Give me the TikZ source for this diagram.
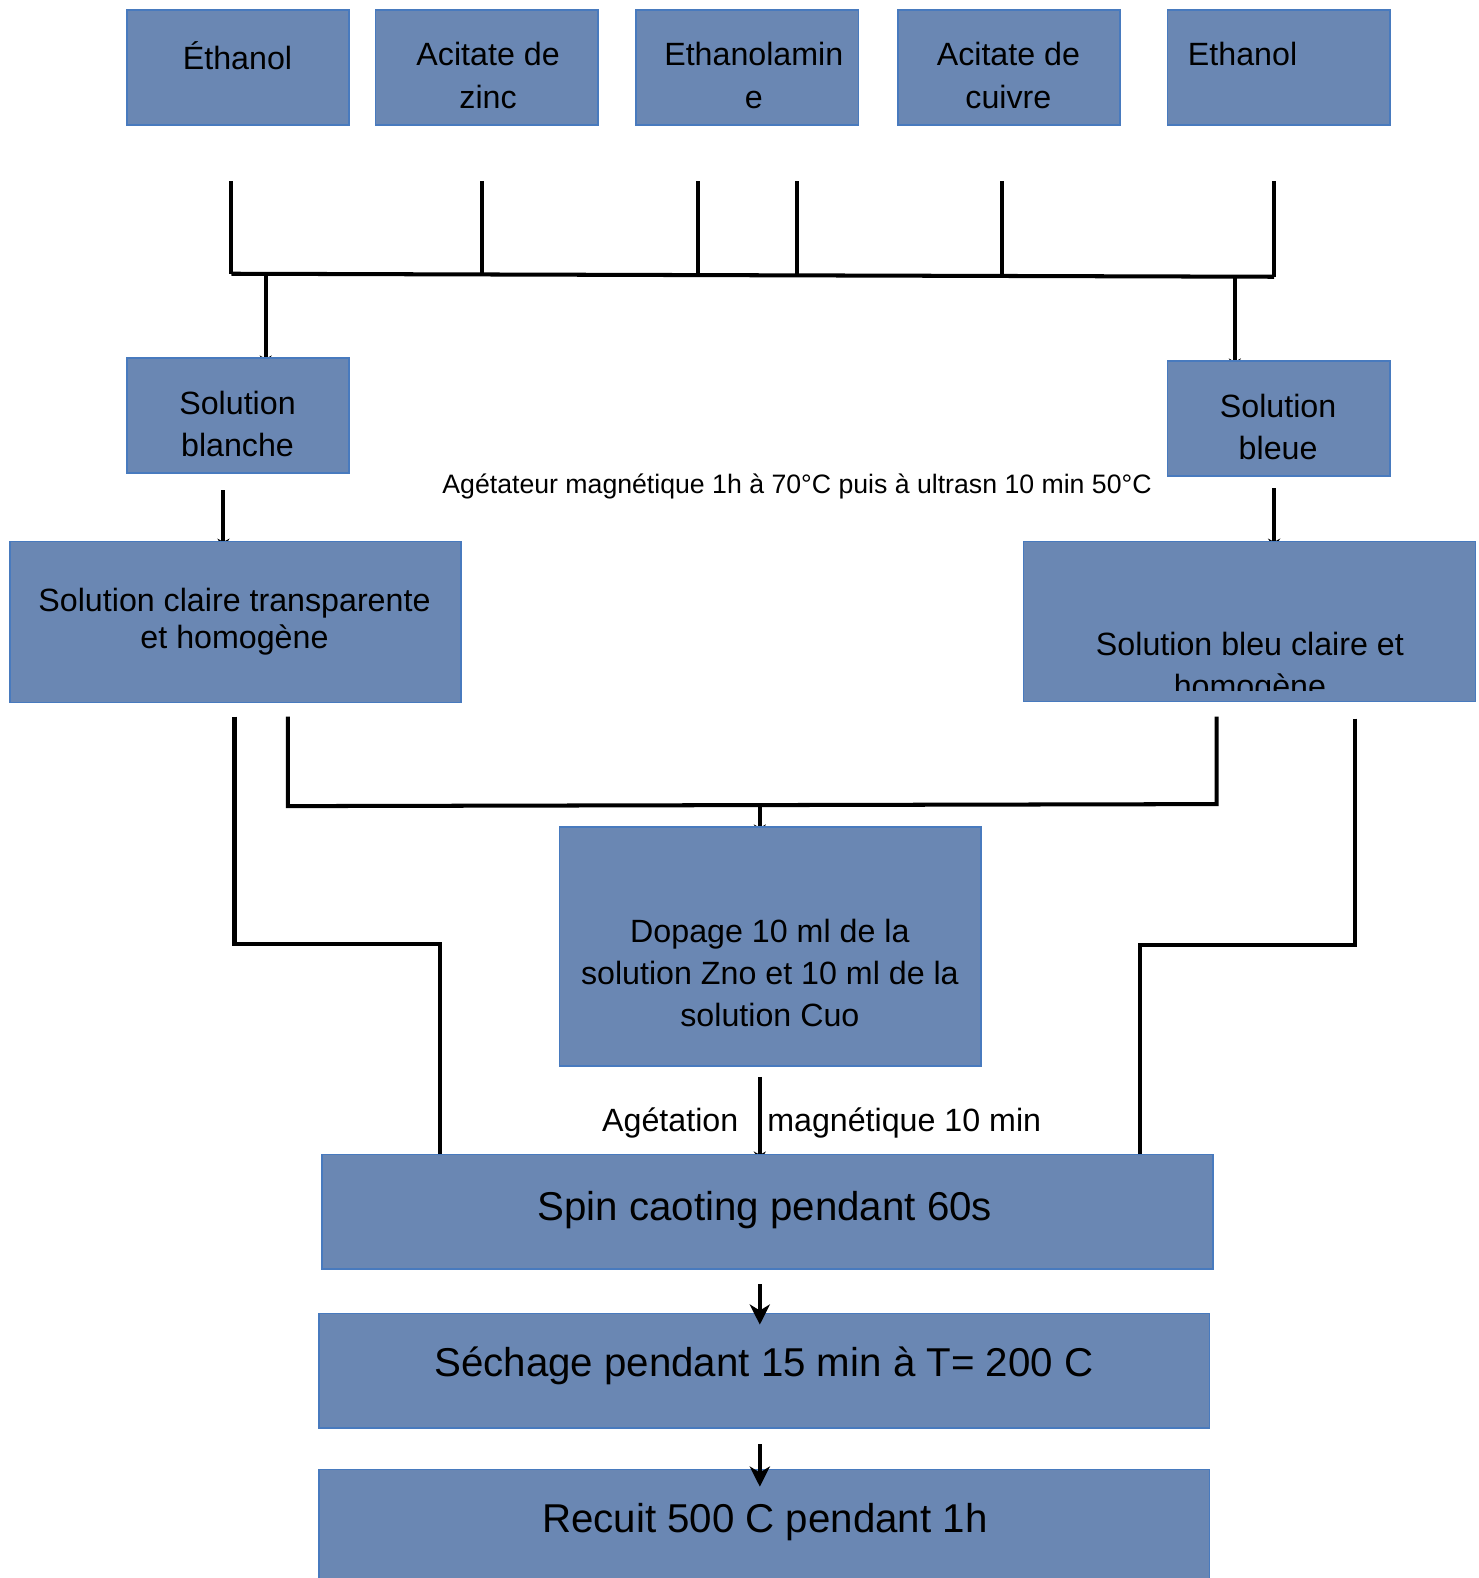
\documentclass[tikz,border=0pt]{standalone}
\usepackage{fontspec}
\setmainfont{Liberation Sans}
\usetikzlibrary{arrows.meta,backgrounds}
\newlength\px
\setlength\px{0.5pt}
\definecolor{boxfill}{RGB}{106,135,179}
\definecolor{boxline}{RGB}{72,122,190}
\tikzset{
  blk/.style={draw=boxline, fill=boxfill, line width=0.8pt, inner sep=0pt},
  txt/.style={align=center, inner sep=0pt, font=\fontsize{16}{21}\selectfont},
  big/.style={inner sep=0pt, font=\fontsize{20}{24}\selectfont},
  wire/.style={line width=2pt},
  smalltip/.style={wire, -{Stealth[length=5pt,width=6pt]}},
  bigtip/.style={wire, -{Stealth[length=10pt,width=10pt,inset=3pt]}}
}
\begin{document}
\begin{tikzpicture}[x=0.5pt,y=-0.5pt]
\useasboundingbox (0,0) rectangle (1469,1568);
% reactifs
\node[blk, minimum width=221*\px, minimum height=114*\px] (eth) at (236.5,67) {};
\node[blk, minimum width=221*\px, minimum height=114*\px] (zin) at (483.5,67) {};
\node[blk, minimum width=221*\px, minimum height=114*\px] (mea) at (742.5,67) {};
\node[blk, minimum width=221*\px, minimum height=114*\px] (cui) at (1002.5,67) {};
\node[blk, minimum width=221*\px, minimum height=114*\px] (ethb) at (1270.5,67) {};
\node[txt] (ethtxt) at (236,55) {Éthanol};
\node[txt] (zintxt) at (485,75) {Acitate de\\zinc};
\node[txt] (meatxt) at (749,75) {Ethanolamin\\e};
\node[txt] (cuitxt) at (1002,75) {Acitate de\\cuivre};
\node[txt, anchor=west] (ethbtxt) at (1180,54) {Ethanol};
% solutions
\node[blk, minimum width=221*\px, minimum height=114*\px] (sbla) at (236.5,413) {};
\node[blk, minimum width=221*\px, minimum height=114*\px] (sble) at (1270.5,416) {};
\node[txt] (sblatxt) at (236,421) {Solution\\blanche};
\node[txt] (sbletxt) at (1270,424) {Solution\\bleue};
\node[inner sep=0pt, font=\fontsize{13.25}{16}\selectfont] (agit) at (792,483)
  {Agétateur magnétique 1h à 70°C puis à ultrasn 10 min 50°C};
\node[blk, minimum width=448*\px, minimum height=160*\px] (sclr) at (234,618) {};
\node[blk, minimum width=449*\px, minimum height=159*\px] (sbcl) at (1241.5,617.5) {};
\node[txt, font=\fontsize{16}{18.5}\selectfont] (sclrtxt) at (233,618)
  {Solution claire transparente\\et homogène};
\begin{scope}
\clip (1017,538) rectangle (1466,686);
\node[txt, font=\fontsize{16}{21}\selectfont] (sbcltxt) at (1242,664)
  {Solution bleu claire et\\homogène};
\end{scope}
% dopage et depot
\node[blk, minimum width=419*\px, minimum height=237*\px] (dop) at (765.5,940.5) {};
\node[txt] (doptxt) at (765,967)
  {Dopage 10 ml de la\\solution Zno et 10 ml de la\\solution Cuo};
\node[blk, minimum width=885*\px, minimum height=114*\px] (spin) at (762.5,1204) {};
\node[big] (spintxt) at (760,1202) {Spin caoting pendant 60s};
\node[blk, minimum width=885*\px, minimum height=114*\px] (sech) at (759.5,1362) {};
\node[big] (sechtxt) at (759,1357) {Séchage pendant 15 min à T= 200 C};
\node[blk, minimum width=885*\px, minimum height=130*\px] (rec) at (759.5,1525) {};
\node[big] (rectxt) at (760,1512) {Recuit 500 C pendant 1h};
\node[txt, anchor=east] (agt) at (734,1116) {Agétation};
\node[txt, anchor=west] (agtb) at (762,1116) {magnétique 10 min};
% connecteurs
\coordinate (c1) at (230,180);
\coordinate (c2) at (479,180);
\coordinate (c3) at (694,180);
\coordinate (c4) at (792,180);
\coordinate (c5) at (996,180);
\coordinate (c6) at (1266,180);
\coordinate (busl) at (230,272);
\coordinate (busr) at (1266,275);
\coordinate (outl) at (264,272);
\coordinate (outr) at (1227,275);
\coordinate (sblaout) at (222,487);
\coordinate (sbleout) at (1266,485);
\coordinate (ml) at (286,712);
\coordinate (mr) at (1209,712);
\coordinate (mid) at (755,800);
\coordinate (bl) at (233,712);
\coordinate (br) at (1346,714);
\coordinate (dopout) at (755,1070);
\coordinate (spinout) at (755,1276);
\coordinate (sechout) at (755,1435);
\begin{scope}[on background layer]
\foreach \c in {c1,c2,c3,c4,c5}
  \draw[wire] (\c) -- (\c |- busl);
\draw[wire] (c6) -- (busr);
\draw[wire] (busl) -- (busr);
\draw[smalltip] (outl) -- ([yshift=-4pt]outl |- sbla.north);
\draw[smalltip] (outr) -- ([yshift=-4pt]outr |- sble.north);
\draw[smalltip] (sblaout) -- ([yshift=-4pt]sblaout |- sclr.north);
\draw[smalltip] (sbleout) -- ([yshift=-4pt]sbleout |- sbcl.north);
\draw[wire] (ml) -- (286,801) -- (1209,799) -- (mr);
\draw[smalltip] (mid) -- ([yshift=-4pt]mid |- dop.north);
\draw[wire] (bl) -- (233,938) -- (437,938) -- (437,0 |- spin.north);
\draw[wire] (br) -- (1346,939) -- (1133,939) -- (1133,0 |- spin.north);
\draw[smalltip] (dopout) -- ([yshift=-4pt]dopout |- spin.north);
\end{scope}
\draw[bigtip] (spinout) -- ([yshift=-6pt]spinout |- sech.north);
\draw[bigtip] (sechout) -- ([yshift=-9pt]sechout |- rec.north);
\end{tikzpicture}
\end{document}
